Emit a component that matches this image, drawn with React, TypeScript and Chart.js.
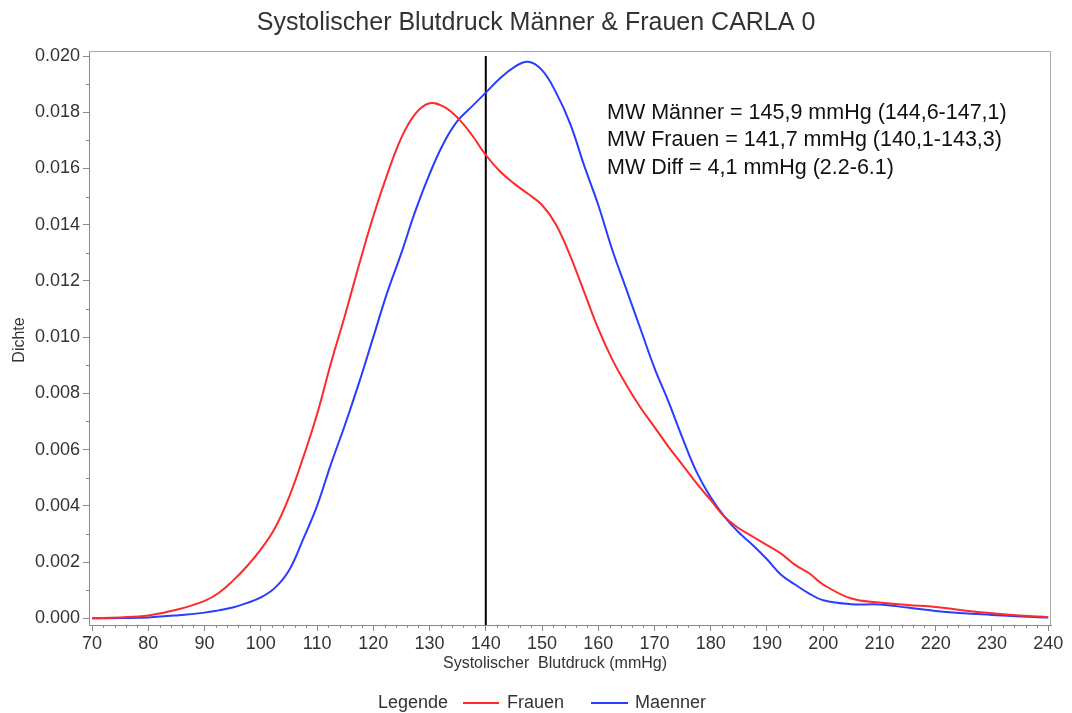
import React, { useEffect, useRef } from "react";
import { Chart, registerables } from "chart.js";

Chart.register(...registerables);

const xValues = [70, 75, 80, 85, 90, 92.5, 95, 97.5, 100, 102.5, 105, 107.5, 110, 112.5, 115, 117.5, 120, 122.5, 125, 127.5, 130, 132.5, 135, 137.5, 140, 142.5, 145, 147.5, 150, 152.5, 155, 157.5, 160, 162.5, 165, 167.5, 170, 172.5, 175, 177.5, 180, 182.5, 185, 187.5, 190, 192.5, 195, 197.5, 200, 205, 210, 215, 220, 225, 230, 235, 240];
const frauen = [0.0, 0.00003, 0.0001, 0.0003, 0.00062, 0.0009, 0.00133, 0.00184, 0.00245, 0.0032, 0.0043, 0.0057, 0.00726, 0.0091, 0.0108, 0.0126, 0.0143, 0.0158, 0.0171, 0.01795, 0.01832, 0.0182, 0.0178, 0.0172, 0.01648, 0.0159, 0.01547, 0.0151, 0.0147, 0.014, 0.0129, 0.0116, 0.0103, 0.0092, 0.0083, 0.0075, 0.0068, 0.0061, 0.00545, 0.0048, 0.0042, 0.0036, 0.0032, 0.0029, 0.0026, 0.0023, 0.0019, 0.0016, 0.0012, 0.0007, 0.00056, 0.00047, 0.0004, 0.00028, 0.00018, 0.0001, 0.00004];
const maenner = [0.0, 0.00001, 0.00003, 0.0001, 0.0002, 0.00028, 0.00038, 0.00054, 0.00074, 0.00108, 0.0017, 0.0028, 0.004, 0.0055, 0.0069, 0.0084, 0.01, 0.0116, 0.013, 0.0145, 0.0158, 0.0169, 0.0177, 0.0182, 0.0187, 0.0192, 0.0196, 0.0198, 0.0195, 0.0187, 0.0176, 0.0161, 0.0147, 0.0131, 0.0117, 0.0103, 0.0089, 0.0077, 0.0064, 0.0052, 0.0043, 0.0036, 0.00305, 0.0026, 0.0021, 0.00155, 0.0012, 0.00088, 0.00064, 0.0005, 0.00049, 0.00038, 0.00026, 0.00018, 0.00012, 0.00006, 0.00003];
const xTicks = [70, 80, 90, 100, 110, 120, 130, 140, 150, 160, 170, 180, 190, 200, 210, 220, 230, 240];
const yTicks = [0, 0.002, 0.004, 0.006, 0.008, 0.01, 0.012, 0.014, 0.016, 0.018, 0.02];
const meanLineX = 140;
const meanLineTop = 0.02;
const titleText = "Systolischer Blutdruck Männer & Frauen CARLA 0";
const xTitle = "Systolischer  Blutdruck (mmHg)";
const yTitle = "Dichte";
const annotationLines = [
  "MW Männer = 145,9 mmHg (144,6-147,1)",
  "MW Frauen = 141,7 mmHg (140,1-143,3)",
  "MW Diff = 4,1 mmHg (2.2-6.1)",
];
const legendTitle = "Legende";
const seriesNames = ["Frauen", "Maenner"];
const seriesColors = ["#ff2a2a", "#2a3cff"];

const FONT = "'Liberation Sans', Arial, sans-serif";
const X_MIN = 69.45;
const X_MAX = 240.5;
const Y_MIN = -0.00024;
const Y_MAX = 0.02018;

const decorPlugin = {
  id: "decor",
  afterDraw(chart: any) {
    const { ctx, chartArea } = chart;
    const xs = chart.scales.x;
    const ys = chart.scales.y;
    ctx.save();
    // frame
    ctx.strokeStyle = "#a8a8a8";
    ctx.lineWidth = 1;
    ctx.beginPath();
    ctx.moveTo(chartArea.left, chartArea.top + 0.5);
    ctx.lineTo(chartArea.right - 0.5, chartArea.top + 0.5);
    ctx.lineTo(chartArea.right - 0.5, chartArea.bottom);
    ctx.stroke();
    // minor ticks
    ctx.strokeStyle = "#888";
    ctx.beginPath();
    for (let v = 70; v <= 240; v += 2) {
      if (v % 10 === 0) continue;
      const px = Math.round(xs.getPixelForValue(v)) + 0.5;
      ctx.moveTo(px, chartArea.bottom);
      ctx.lineTo(px, chartArea.bottom + 3);
    }
    for (let i = 1; i <= 19; i += 2) {
      const py = Math.round(ys.getPixelForValue(i * 0.001)) + 0.5;
      ctx.moveTo(chartArea.left, py);
      ctx.lineTo(chartArea.left - 3, py);
    }
    ctx.stroke();
    // title
    ctx.fillStyle = "#333";
    ctx.textAlign = "center";
    ctx.textBaseline = "middle";
    ctx.font = `25px ${FONT}`;
    ctx.fillText(titleText, 536, 23);
    // axis titles
    ctx.font = `16px ${FONT}`;
    ctx.fillText(xTitle, 555, 664);
    ctx.save();
    ctx.translate(20, 340);
    ctx.rotate(-Math.PI / 2);
    ctx.fillText(yTitle, 0, 0);
    ctx.restore();
    // annotation
    ctx.fillStyle = "#111";
    ctx.textAlign = "left";
    ctx.font = `21.5px ${FONT}`;
    annotationLines.forEach((t, i) => ctx.fillText(t, 607, 113 + i * 27.5));
    // legend
    ctx.fillStyle = "#333";
    ctx.font = `18px ${FONT}`;
    const ly = 703;
    ctx.fillText(legendTitle, 378, ly);
    ctx.lineWidth = 2;
    ctx.strokeStyle = seriesColors[0];
    ctx.beginPath();
    ctx.moveTo(463, ly);
    ctx.lineTo(499, ly);
    ctx.stroke();
    ctx.fillText(seriesNames[0], 507, ly);
    ctx.strokeStyle = seriesColors[1];
    ctx.beginPath();
    ctx.moveTo(591, ly);
    ctx.lineTo(628, ly);
    ctx.stroke();
    ctx.fillText(seriesNames[1], 635, ly);
    ctx.restore();
  },
};

export default function App() {
  const ref = useRef<HTMLCanvasElement | null>(null);
  useEffect(() => {
    if (!ref.current) return;
    const chart = new Chart(ref.current, {
      type: "line",
      data: {
        datasets: [
          {
            label: seriesNames[0],
            data: xValues.map((x, i) => ({ x, y: frauen[i] })),
            borderColor: seriesColors[0],
            borderWidth: 2,
            pointRadius: 0,
            tension: 0.4,
            fill: false,
          },
          {
            label: seriesNames[1],
            data: xValues.map((x, i) => ({ x, y: maenner[i] })),
            borderColor: seriesColors[1],
            borderWidth: 2,
            pointRadius: 0,
            tension: 0.4,
            fill: false,
          },
          {
            label: "MW",
            data: [
              { x: meanLineX, y: Y_MIN },
              { x: meanLineX, y: meanLineTop },
            ],
            borderColor: "#000",
            borderWidth: 2,
            pointRadius: 0,
            fill: false,
          },
        ],
      },
      options: {
        responsive: false,
        animation: false,
        layout: { padding: { top: 51, right: 21, bottom: 58, left: 0 } },
        plugins: {
          legend: { display: false },
          title: { display: false },
          tooltip: { enabled: false },
        },
        scales: {
          x: {
            type: "linear",
            min: X_MIN,
            max: X_MAX,
            afterBuildTicks: (s: any) => {
              s.ticks = xTicks.map((v) => ({ value: v }));
            },
            afterFit: (s: any) => {
              s.height = 30;
            },
            ticks: {
              autoSkip: false,
              maxRotation: 0,
              padding: 2,
              color: "#333",
              font: { family: FONT, size: 18 },
              callback: (v: any) => String(v),
            },
            grid: { drawOnChartArea: false, drawTicks: true, tickLength: 6, color: "#888" },
            border: { color: "#888" },
          },
          y: {
            type: "linear",
            min: Y_MIN,
            max: Y_MAX,
            afterBuildTicks: (s: any) => {
              s.ticks = yTicks.map((v) => ({ value: v }));
            },
            afterFit: (s: any) => {
              s.width = 89;
            },
            ticks: {
              autoSkip: false,
              padding: 3,
              color: "#333",
              font: { family: FONT, size: 18 },
              callback: (v: any) => Number(v).toFixed(3),
            },
            grid: { drawOnChartArea: false, drawTicks: true, tickLength: 6, color: "#888" },
            border: { color: "#888" },
          },
        },
      },
      plugins: [decorPlugin],
    } as any);
    return () => chart.destroy();
  }, []);
  return (
    <div style={{ position: "fixed", left: 0, top: 0, width: 1072, height: 713, background: "#fff" }}>
      <canvas ref={ref} width={1072} height={713} style={{ display: "block" }} />
    </div>
  );
}
